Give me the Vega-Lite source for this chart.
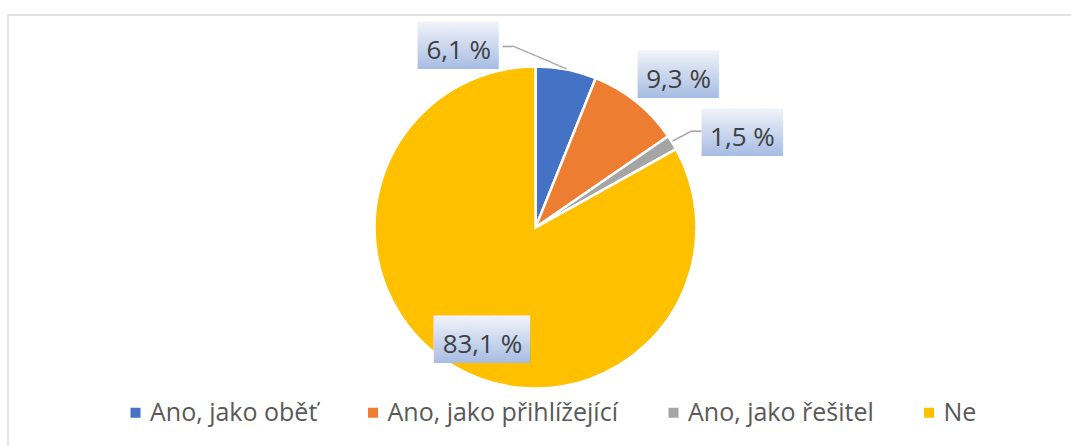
{
  "$schema": "https://vega.github.io/schema/vega-lite/v6.json",
  "autosize": "none",
  "width": 1073,
  "height": 441,
  "padding": {"left": 8, "top": 15, "right": -10, "bottom": -10},
  "background": "white",
  "config": {
    "view": {"stroke": null},
    "legend": {
      "orient": "none",
      "direction": "horizontal",
      "legendX": 115,
      "legendY": 385,
      "title": null,
      "symbolType": "square",
      "symbolSize": 100,
      "symbolStrokeWidth": 0,
      "labelFont": "Open Sans",
      "labelFontSize": 25,
      "labelColor": "#595959",
      "labelOffset": 2,
      "labelLimit": 500,
      "columnPadding": 42.5,
      "padding": 0
    }
  },
  "data": {
    "values": [
      {"cat": "Ano, jako oběť", "value": 6.1, "label": "6,1 %"},
      {"cat": "Ano, jako přihlížející", "value": 9.3, "label": "9,3 %"},
      {"cat": "Ano, jako řešitel", "value": 1.5, "label": "1,5 %"},
      {"cat": "Ne", "value": 83.1, "label": "83,1 %"}
    ]
  },
  "layer": [
    {
      "data": {"values": [{}]},
      "mark": {"type": "rect", "filled": false, "color": "#d9d9d9", "strokeWidth": 1.3},
      "encoding": {}
    },
    {
      "encoding": {
        "theta": {"field": "value", "type": "quantitative", "stack": true},
        "order": {"field": "cat", "type": "nominal"},
        "detail": {"field": "cat", "type": "nominal"}
      },
      "layer": [
        {
          "mark": {"type": "arc", "outerRadius": 161, "stroke": "white", "strokeWidth": 2.5, "xOffset": -9, "yOffset": -8},
          "encoding": {
            "color": {
              "field": "cat", "type": "nominal",
              "scale": {"domain": ["Ano, jako oběť", "Ano, jako přihlížející", "Ano, jako řešitel", "Ne"], "range": ["#4472C4", "#ED7D31", "#A5A5A5", "#FFC000"]},
              "legend": {"title": null}
            }
          }
        },
        {
          "mark": {"type": "text", "radius": 161, "angle": 22.7, "align": "right", "baseline": "middle", "font": "DejaVu Sans", "fontSize": 14, "fill": "#a6a6a6", "xOffset": -9, "yOffset": -8},
          "encoding": {"text": {"condition": {"test": "datum.cat === 'Ano, jako oběť'", "value": "───────"}, "value": ""}}
        },
        {
          "mark": {"type": "text", "radius": 161, "dx": -54, "dy": -22.6, "align": "right", "baseline": "middle", "font": "DejaVu Sans", "fontSize": 16, "fill": "#a6a6a6", "xOffset": -9, "yOffset": -8},
          "encoding": {"text": {"condition": {"test": "datum.cat === 'Ano, jako oběť'", "value": "─"}, "value": ""}}
        },
        {
          "mark": {"type": "text", "radius": 162, "angle": -29, "align": "left", "baseline": "middle", "font": "DejaVu Sans", "fontSize": 17, "fill": "#a6a6a6", "xOffset": -9, "yOffset": -8},
          "encoding": {"text": {"condition": {"test": "datum.cat === 'Ano, jako řešitel'", "value": "──"}, "value": ""}}
        },
        {
          "mark": {"type": "text", "radius": 162, "dx": 18, "dy": -10, "align": "left", "baseline": "middle", "font": "DejaVu Sans", "fontSize": 17, "fill": "#a6a6a6", "xOffset": -9, "yOffset": -8},
          "encoding": {"text": {"condition": {"test": "datum.cat === 'Ano, jako řešitel'", "value": "─"}, "value": ""}}
        },
        {
          "mark": {"type": "text", "radius": 185, "dx": -106.5, "dy": 1.5, "align": "center", "baseline": "middle", "font": "DejaVu Sans", "fontSize": 40, "fillOpacity": 1,
            "fill": {"gradient": "linear", "x1": 0, "y1": 0, "x2": 0, "y2": 1, "stops": [{"offset": 0, "color": "#f2f4fa"}, {"offset": 1, "color": "#a6bce3"}]}, "xOffset": -9, "yOffset": -8},
          "encoding": {"text": {"condition": {"test": "datum.cat === 'Ano, jako oběť'", "value": "██▋"}, "value": ""}}
        },
        {
          "mark": {"type": "text", "radius": 208, "dx": 18.7, "dy": 10.8, "align": "center", "baseline": "middle", "font": "DejaVu Sans", "fontSize": 40, "fillOpacity": 1,
            "fill": {"gradient": "linear", "x1": 0, "y1": 0, "x2": 0, "y2": 1, "stops": [{"offset": 0, "color": "#f2f4fa"}, {"offset": 1, "color": "#a6bce3"}]}, "xOffset": -9, "yOffset": -8},
          "encoding": {"text": {"condition": {"test": "datum.cat === 'Ano, jako přihlížející'", "value": "██▋"}, "value": ""}}
        },
        {
          "mark": {"type": "text", "radius": 226, "dx": 20.8, "dy": 25.7, "align": "center", "baseline": "middle", "font": "DejaVu Sans", "fontSize": 40, "fillOpacity": 1,
            "fill": {"gradient": "linear", "x1": 0, "y1": 0, "x2": 0, "y2": 1, "stops": [{"offset": 0, "color": "#f2f4fa"}, {"offset": 1, "color": "#a6bce3"}]}, "xOffset": -9, "yOffset": -8},
          "encoding": {"text": {"condition": {"test": "datum.cat === 'Ano, jako řešitel'", "value": "██▋"}, "value": ""}}
        },
        {
          "mark": {"type": "text", "radius": 124, "dx": 23, "dy": 7, "align": "center", "baseline": "middle", "font": "DejaVu Sans", "fontSize": 40, "fillOpacity": 1,
            "fill": {"gradient": "linear", "x1": 0, "y1": 0, "x2": 0, "y2": 1, "stops": [{"offset": 0, "color": "#f2f4fa"}, {"offset": 1, "color": "#a6bce3"}]}, "xOffset": -9, "yOffset": -8},
          "encoding": {"text": {"condition": {"test": "datum.cat === 'Ne'", "value": "███▏"}, "value": ""}}
        },
        {
          "mark": {"type": "text", "radius": 185, "dx": -112, "dy": 5, "align": "center", "baseline": "middle", "font": "Open Sans", "fontSize": 26, "fill": "#404040", "xOffset": -9, "yOffset": -8},
          "encoding": {"text": {"condition": {"test": "datum.cat === 'Ano, jako oběť'", "field": "label", "type": "nominal"}, "value": ""}}
        },
        {
          "mark": {"type": "text", "radius": 208, "dx": 13, "dy": 14.4, "align": "center", "baseline": "middle", "font": "Open Sans", "fontSize": 26, "fill": "#404040", "xOffset": -9, "yOffset": -8},
          "encoding": {"text": {"condition": {"test": "datum.cat === 'Ano, jako přihlížející'", "field": "label", "type": "nominal"}, "value": ""}}
        },
        {
          "mark": {"type": "text", "radius": 226, "dx": 15, "dy": 29.3, "align": "center", "baseline": "middle", "font": "Open Sans", "fontSize": 26, "fill": "#404040", "xOffset": -9, "yOffset": -8},
          "encoding": {"text": {"condition": {"test": "datum.cat === 'Ano, jako řešitel'", "field": "label", "type": "nominal"}, "value": ""}}
        },
        {
          "mark": {"type": "text", "radius": 124, "dx": 9.7, "dy": 10.6, "align": "center", "baseline": "middle", "font": "Open Sans", "fontSize": 26, "fill": "#404040", "xOffset": -9, "yOffset": -8},
          "encoding": {"text": {"condition": {"test": "datum.cat === 'Ne'", "field": "label", "type": "nominal"}, "value": ""}}
        }
      ]
    }
  ]
}
